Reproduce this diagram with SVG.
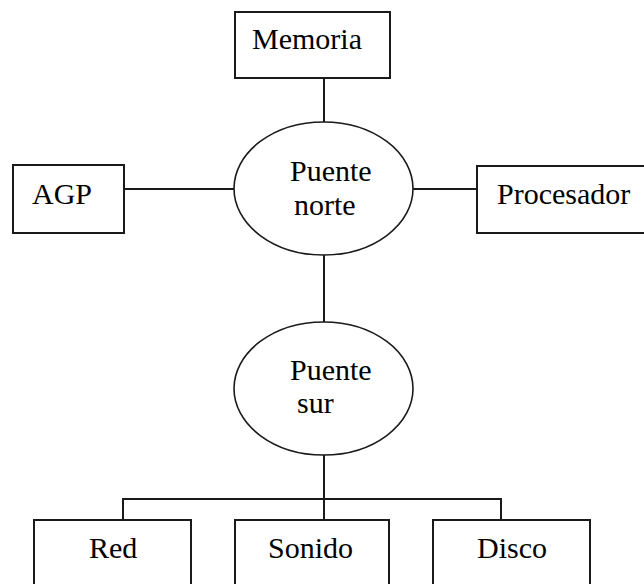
<svg xmlns="http://www.w3.org/2000/svg" width="644" height="584" viewBox="0 0 644 584">
  <style>
    .box { fill: #fff; stroke: #1a1a1a; stroke-width: 2; }
    .hub { fill: #fff; stroke: #1a1a1a; stroke-width: 1.6; }
    .wire { fill: none; stroke: #1a1a1a; stroke-width: 2; }
    .lbl { font-family: "Liberation Serif", "Times New Roman", serif; font-size: 30px; fill: #000; }
  </style>
  <rect width="644" height="584" fill="#fff"/>

  <g id="connectors">
    <line class="wire" x1="324" y1="78" x2="324" y2="122"/>
    <line class="wire" x1="124" y1="189" x2="234" y2="189"/>
    <line class="wire" x1="413" y1="189" x2="477" y2="189"/>
    <line class="wire" x1="324" y1="255" x2="324" y2="322"/>
    <line class="wire" x1="324" y1="455" x2="324" y2="520"/>
    <polyline class="wire" points="123,520 123,499 501,499 501,520"/>
  </g>

  <g id="memoria">
    <rect class="box" x="235" y="12" width="155" height="66"/>
    <text class="lbl" x="252" y="49">Memoria</text>
  </g>

  <g id="agp">
    <rect class="box" x="13" y="165" width="111" height="68"/>
    <text class="lbl" x="32" y="204">AGP</text>
  </g>

  <g id="procesador">
    <rect class="box" x="477" y="166" width="170" height="67"/>
    <text class="lbl" x="497" y="204">Procesador</text>
  </g>

  <g id="puente-norte">
    <ellipse class="hub" cx="323.5" cy="188.5" rx="89.5" ry="66.5"/>
    <text class="lbl" x="290" y="181">Puente</text>
    <text class="lbl" x="294" y="215">norte</text>
  </g>

  <g id="puente-sur">
    <ellipse class="hub" cx="323.5" cy="388.5" rx="89.5" ry="66.5"/>
    <text class="lbl" x="290" y="380">Puente</text>
    <text class="lbl" x="297" y="413">sur</text>
  </g>

  <g id="red">
    <rect class="box" x="34" y="520" width="157" height="80"/>
    <text class="lbl" x="89" y="558">Red</text>
  </g>

  <g id="sonido">
    <rect class="box" x="235" y="520" width="154" height="80"/>
    <text class="lbl" x="268" y="558">Sonido</text>
  </g>

  <g id="disco">
    <rect class="box" x="433" y="520" width="157" height="80"/>
    <text class="lbl" x="477" y="558">Disco</text>
  </g>
</svg>
